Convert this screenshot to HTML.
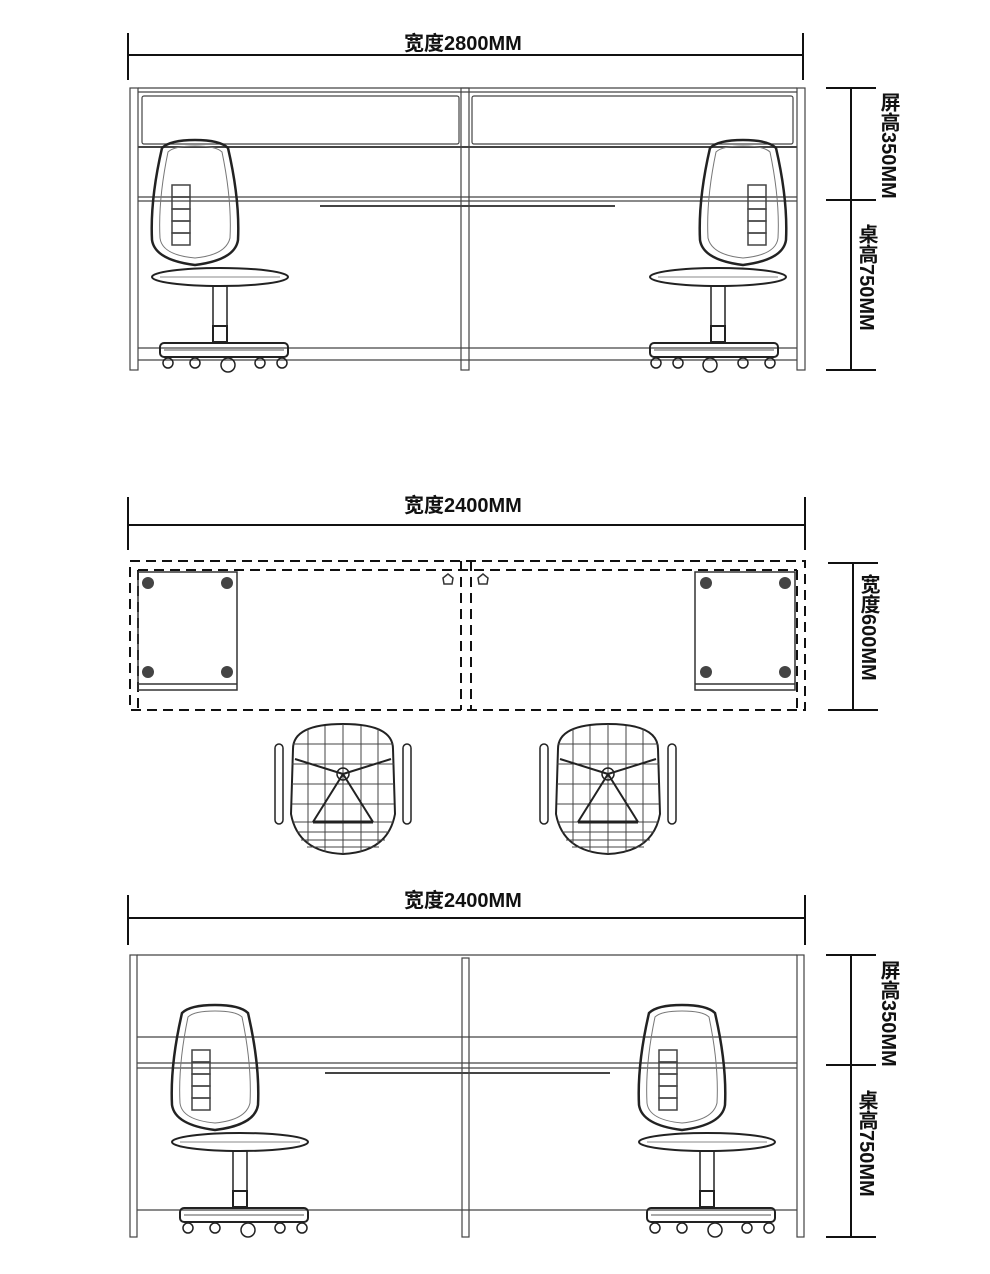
<!DOCTYPE html>
<html><head><meta charset="utf-8"><style>
html,body{margin:0;padding:0;background:#fff;}
body{width:990px;height:1274px;position:relative;overflow:hidden;font-family:"Liberation Sans","Noto Sans CJK SC",sans-serif;}
.lbl{position:absolute;font-size:20px;font-weight:bold;color:#111;font-family:"Liberation Sans","Noto Sans CJK SC",sans-serif;line-height:1;}
.v{writing-mode:vertical-rl;text-orientation:mixed;}
svg{position:absolute;left:0;top:0;}
</style></head><body>
<svg width="990" height="1274" viewBox="0 0 990 1274">
<defs>
<g id="sideChair" fill="none" stroke="#222">
  <path d="M12 8 Q20 0 45 0 Q70 0 78 8 Q90 60 88 100 Q85 120 45 125 Q5 120 2 100 Q0 60 12 8Z" stroke-width="2.5"/>
  <path d="M18 12 Q24 6 45 6 Q66 6 72 12 Q82 60 80 98 Q76 115 45 118 Q12 115 10 98 Q8 60 18 12Z" stroke-width="1" stroke="#777"/>
  <g stroke="#444" stroke-width="1.5"><rect x="22" y="45" width="18" height="12"/><rect x="22" y="57" width="18" height="12"/><rect x="22" y="69" width="18" height="12"/><rect x="22" y="81" width="18" height="12"/><rect x="22" y="93" width="18" height="12"/></g>
  <ellipse cx="70" cy="137" rx="68" ry="9" stroke-width="2"/>
  <line x1="10" y1="137" x2="130" y2="137" stroke="#888"/>
  <rect x="63" y="146" width="14" height="40" stroke-width="1.5"/>
  <rect x="63" y="186" width="14" height="16" stroke-width="2"/>
  <rect x="10" y="203" width="128" height="14" rx="4" stroke-width="2"/>
  <line x1="14" y1="210" x2="134" y2="210" stroke="#555"/>
  <circle cx="18" cy="223" r="5" stroke-width="1.5"/><circle cx="45" cy="223" r="5" stroke-width="1.5"/>
  <circle cx="78" cy="225" r="7" stroke-width="1.5"/><circle cx="110" cy="223" r="5" stroke-width="1.5"/><circle cx="132" cy="223" r="5" stroke-width="1.5"/>
</g>
<g id="topChair" fill="none" stroke="#222">
  <path d="M10 25 Q10 0 60 0 Q110 0 110 25 L112 90 Q105 128 60 130 Q15 128 8 90Z" stroke-width="2"/>
  <g stroke="#444" stroke-width="1">
   <line x1="25" y1="5" x2="25" y2="120"/><line x1="42" y1="2" x2="42" y2="128"/><line x1="60" y1="0" x2="60" y2="130"/><line x1="78" y1="2" x2="78" y2="128"/><line x1="95" y1="5" x2="95" y2="120"/>
   <line x1="10" y1="20" x2="110" y2="20"/><line x1="9" y1="40" x2="111" y2="40"/><line x1="9" y1="60" x2="111" y2="60"/><line x1="9" y1="80" x2="111" y2="80"/><line x1="10" y1="98" x2="110" y2="98"/><line x1="14" y1="108" x2="106" y2="108"/><line x1="18" y1="116" x2="102" y2="116"/><line x1="24" y1="123" x2="96" y2="123"/>
  </g>
  <circle cx="60" cy="50" r="6" stroke-width="1.5"/>
  <path d="M60 50 L12 35 M60 50 L108 35 M60 50 L30 98 M60 50 L90 98" stroke-width="2"/>
  <line x1="30" y1="98" x2="90" y2="98" stroke-width="3"/>
  <rect x="-8" y="20" width="8" height="80" rx="4" stroke-width="1.5"/>
  <rect x="120" y="20" width="8" height="80" rx="4" stroke-width="1.5"/>
</g>
</defs>
<g stroke="#111" stroke-width="2" fill="none">
 <line x1="128" y1="55" x2="803" y2="55"/><line x1="128" y1="33" x2="128" y2="80"/><line x1="803" y1="33" x2="803" y2="80"/>
 <line x1="851" y1="88" x2="851" y2="370"/><line x1="826" y1="88" x2="876" y2="88"/><line x1="826" y1="200" x2="876" y2="200"/><line x1="826" y1="370" x2="876" y2="370"/>
 <line x1="128" y1="525" x2="805" y2="525"/><line x1="128" y1="497" x2="128" y2="550"/><line x1="805" y1="497" x2="805" y2="550"/>
 <line x1="853" y1="563" x2="853" y2="710"/><line x1="828" y1="563" x2="878" y2="563"/><line x1="828" y1="710" x2="878" y2="710"/>
 <line x1="128" y1="918" x2="805" y2="918"/><line x1="128" y1="895" x2="128" y2="945"/><line x1="805" y1="895" x2="805" y2="945"/>
 <line x1="851" y1="955" x2="851" y2="1237"/><line x1="826" y1="955" x2="876" y2="955"/><line x1="826" y1="1065" x2="876" y2="1065"/><line x1="826" y1="1237" x2="876" y2="1237"/>
</g>
<g fill="none" stroke="#444" stroke-width="1.2">
 <rect x="130" y="88" width="8" height="282"/><rect x="797" y="88" width="8" height="282"/><rect x="461" y="88" width="8" height="282"/>
 <line x1="138" y1="92" x2="797" y2="92"/><line x1="138" y1="88" x2="797" y2="88"/>
 <rect x="142" y="96" width="317" height="48" rx="2"/><rect x="472" y="96" width="321" height="48" rx="2"/>
 <line x1="138" y1="147" x2="797" y2="147" stroke-width="2"/>
 <line x1="138" y1="197" x2="797" y2="197"/><line x1="138" y1="201" x2="797" y2="201"/>
 <line x1="320" y1="206" x2="615" y2="206" stroke-width="2"/>
 <line x1="138" y1="348" x2="797" y2="348"/><line x1="138" y1="360" x2="797" y2="360"/>
</g>
<use href="#sideChair" x="150" y="140"/>
<g transform="translate(788,140) scale(-1,1)"><use href="#sideChair" x="0" y="0"/></g>
<g fill="none" stroke="#111" stroke-width="2" stroke-dasharray="10,6">
 <rect x="130" y="561" width="675" height="149"/>
 <line x1="138" y1="570" x2="797" y2="570"/>
 <line x1="138" y1="570" x2="138" y2="710"/><line x1="797" y1="570" x2="797" y2="710"/>
 <line x1="461" y1="561" x2="461" y2="710"/><line x1="471" y1="561" x2="471" y2="710"/>
</g>
<g fill="none" stroke="#333" stroke-width="1.5">
 <rect x="138" y="572" width="99" height="118"/><line x1="138" y1="684" x2="237" y2="684"/>
 <rect x="695" y="572" width="100" height="118"/><line x1="695" y1="684" x2="795" y2="684"/>
 <path d="M443 578 l5 -4 l5 4 l-1 6 l-8 0z"/><path d="M478 578 l5 -4 l5 4 l-1 6 l-8 0z"/>
</g>
<g fill="#444">
 <circle cx="148" cy="583" r="6"/><circle cx="227" cy="583" r="6"/><circle cx="148" cy="672" r="6"/><circle cx="227" cy="672" r="6"/>
 <circle cx="706" cy="583" r="6"/><circle cx="785" cy="583" r="6"/><circle cx="706" cy="672" r="6"/><circle cx="785" cy="672" r="6"/>
</g>
<use href="#topChair" x="283" y="724"/>
<use href="#topChair" x="548" y="724"/>
<g fill="none" stroke="#444" stroke-width="1.2">
 <rect x="130" y="955" width="7" height="282"/><rect x="797" y="955" width="7" height="282"/><rect x="462" y="958" width="7" height="279"/>
 <line x1="137" y1="955" x2="797" y2="955"/>
 <line x1="137" y1="1037" x2="797" y2="1037"/>
 <line x1="137" y1="1063" x2="797" y2="1063"/><line x1="137" y1="1068" x2="797" y2="1068"/>
 <line x1="325" y1="1073" x2="610" y2="1073" stroke-width="2"/>
 <line x1="137" y1="1210" x2="797" y2="1210"/>
</g>
<use href="#sideChair" x="170" y="1005"/>
<use href="#sideChair" x="637" y="1005"/>
</svg>
<div class="lbl" style="left:404px;top:34px;">宽度2800MM</div>
<div class="lbl" style="left:404px;top:496px;">宽度2400MM</div>
<div class="lbl" style="left:404px;top:891px;">宽度2400MM</div>
<div class="lbl v" style="left:878px;top:92px;">屏高350MM</div>
<div class="lbl v" style="left:856px;top:224px;">桌高750MM</div>
<div class="lbl v" style="left:858px;top:574px;">宽度600MM</div>
<div class="lbl v" style="left:878px;top:960px;">屏高350MM</div>
<div class="lbl v" style="left:856px;top:1090px;">桌高750MM</div>
</body></html>
